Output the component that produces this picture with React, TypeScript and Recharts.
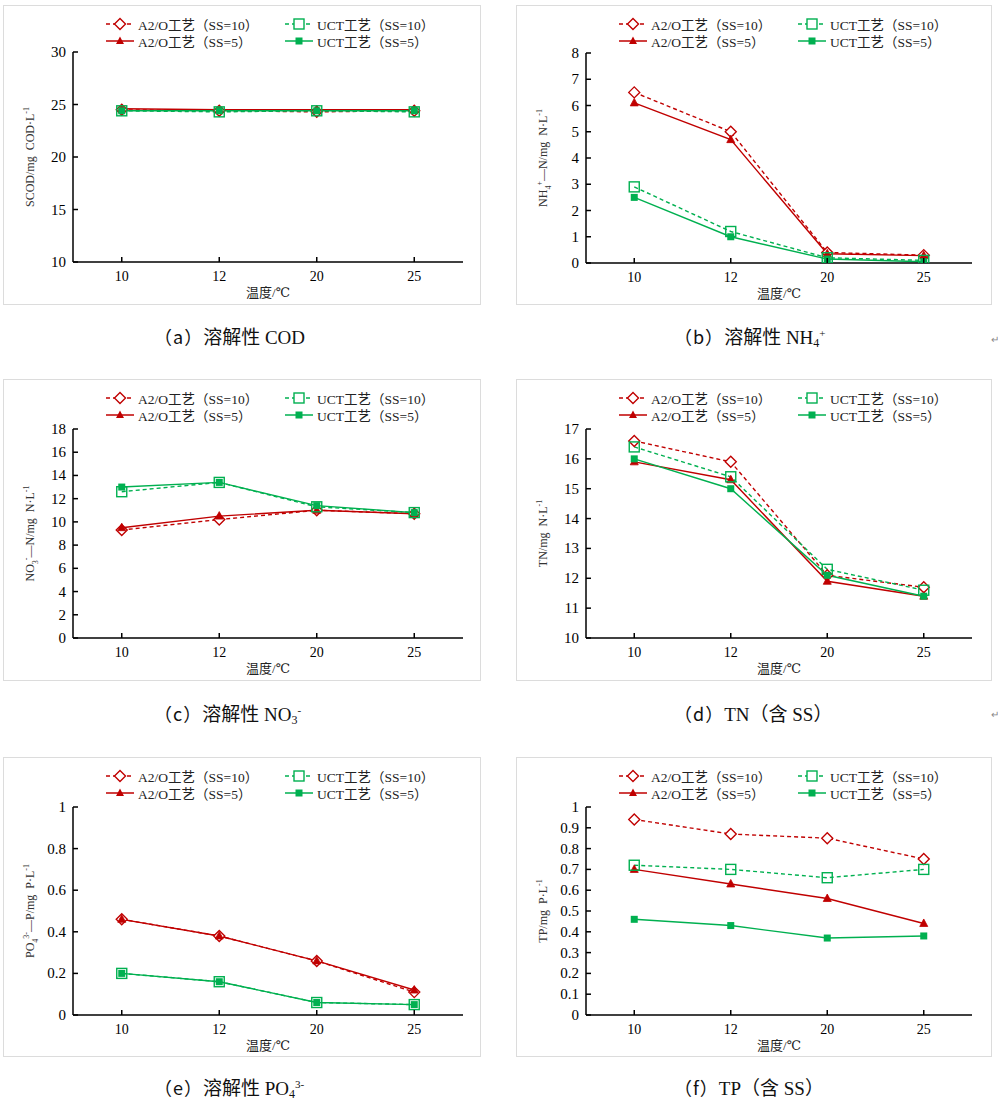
import React from 'react';
import { LineChart, Line, XAxis, YAxis } from 'recharts';

const temps = ['10', '12', '20', '25'];

const codA2O10 = [24.5, 24.4, 24.3, 24.4];
const codA2O5 = [24.6, 24.5, 24.5, 24.5];
const codUCT10 = [24.4, 24.3, 24.4, 24.3];
const codUCT5 = [24.4, 24.4, 24.4, 24.4];

const nhA2O10 = [6.5, 5.0, 0.4, 0.3];
const nhA2O5 = [6.1, 4.7, 0.35, 0.28];
const nhUCT10 = [2.9, 1.2, 0.2, 0.1];
const nhUCT5 = [2.5, 1.0, 0.15, 0.05];

const noA2O10 = [9.3, 10.2, 11.0, 10.7];
const noA2O5 = [9.5, 10.5, 11.0, 10.7];
const noUCT10 = [12.6, 13.4, 11.3, 10.8];
const noUCT5 = [13.0, 13.4, 11.4, 10.8];

const tnA2O10 = [16.6, 15.9, 12.1, 11.7];
const tnA2O5 = [15.9, 15.3, 11.9, 11.4];
const tnUCT10 = [16.4, 15.4, 12.3, 11.6];
const tnUCT5 = [16.0, 15.0, 12.1, 11.4];

const poA2O10 = [0.46, 0.38, 0.26, 0.11];
const poA2O5 = [0.46, 0.38, 0.26, 0.12];
const poUCT10 = [0.2, 0.16, 0.06, 0.05];
const poUCT5 = [0.2, 0.16, 0.06, 0.05];

const tpA2O10 = [0.94, 0.87, 0.85, 0.75];
const tpA2O5 = [0.7, 0.63, 0.56, 0.44];
const tpUCT10 = [0.72, 0.7, 0.66, 0.7];
const tpUCT5 = [0.46, 0.43, 0.37, 0.38];

const ticksCOD = [10, 15, 20, 25, 30];
const ticksNH = [0, 1, 2, 3, 4, 5, 6, 7, 8];
const ticksNO = [0, 2, 4, 6, 8, 10, 12, 14, 16, 18];
const ticksTN = [10, 11, 12, 13, 14, 15, 16, 17];
const ticksPO = [0, 0.2, 0.4, 0.6, 0.8, 1];
const ticksTP = [0, 0.1, 0.2, 0.3, 0.4, 0.5, 0.6, 0.7, 0.8, 0.9, 1];

const legendNames = ['A2/O工艺（SS=10）', 'UCT工艺（SS=10）', 'A2/O工艺（SS=5）', 'UCT工艺（SS=5）'];

const RED = '#C00000';
const GREEN = '#00B050';
const FONT = '"Liberation Serif", "DejaVu Serif", "Noto Sans CJK SC", serif';

type Seg = { t: string; sub?: boolean; sup?: boolean };

const build = (a: number[], b: number[], c: number[], d: number[]) =>
  temps.map((t, i) => ({ t, a10: a[i], a5: b[i], u10: c[i], u5: d[i] }));

const panels = [
  {
    left: 3, top: 5, w: 478, h: 300, plotTop: 47, plotBottom: 257, right: 18,
    data: build(codA2O10, codA2O5, codUCT10, codUCT5), domain: [10, 30], ticks: ticksCOD,
    ylabel: [{ t: 'SCOD/mg  COD·L' }, { t: '-1', sup: true }] as Seg[],
  },
  {
    left: 516, top: 5, w: 476, h: 300, plotTop: 48, plotBottom: 258, right: 20,
    data: build(nhA2O10, nhA2O5, nhUCT10, nhUCT5), domain: [0, 8], ticks: ticksNH,
    ylabel: [{ t: 'NH' }, { t: '4', sub: true }, { t: '+', sup: true }, { t: '—N/mg  N·L' }, { t: '-1', sup: true }] as Seg[],
  },
  {
    left: 3, top: 379, w: 478, h: 302, plotTop: 50, plotBottom: 259, right: 18,
    data: build(noA2O10, noA2O5, noUCT10, noUCT5), domain: [0, 18], ticks: ticksNO,
    ylabel: [{ t: 'NO' }, { t: '3', sub: true }, { t: '-', sup: true }, { t: '—N/mg  N·L' }, { t: '-1', sup: true }] as Seg[],
  },
  {
    left: 516, top: 379, w: 476, h: 302, plotTop: 50, plotBottom: 259, right: 20,
    data: build(tnA2O10, tnA2O5, tnUCT10, tnUCT5), domain: [10, 17], ticks: ticksTN,
    ylabel: [{ t: 'TN/mg  N·L' }, { t: '-1', sup: true }] as Seg[],
  },
  {
    left: 3, top: 757, w: 478, h: 300, plotTop: 50, plotBottom: 258, right: 18,
    data: build(poA2O10, poA2O5, poUCT10, poUCT5), domain: [0, 1], ticks: ticksPO,
    ylabel: [{ t: 'PO' }, { t: '4', sub: true }, { t: '3-', sup: true }, { t: '—P/mg  P·L' }, { t: '-1', sup: true }] as Seg[],
  },
  {
    left: 516, top: 757, w: 476, h: 300, plotTop: 50, plotBottom: 258, right: 20,
    data: build(tpA2O10, tpA2O5, tpUCT10, tpUCT5), domain: [0, 1], ticks: ticksTP,
    ylabel: [{ t: 'TP/mg  P·L' }, { t: '-1', sup: true }] as Seg[],
  },
];

const captions = [
  { left: 154, top: 324, lab: '（a）', segs: [{ t: '溶解性 ' }, { t: 'COD' }] as Seg[] },
  { left: 674, top: 324, lab: '（b）', segs: [{ t: '溶解性 ' }, { t: 'NH' }, { t: '4', sub: true }, { t: '+', sup: true }] as Seg[] },
  { left: 154, top: 701, lab: '（c）', segs: [{ t: '溶解性 ' }, { t: 'NO' }, { t: '3', sub: true }, { t: '-', sup: true }] as Seg[] },
  { left: 674, top: 701, lab: '（d）', segs: [{ t: 'TN（含 SS）' }] as Seg[] },
  { left: 154, top: 1075, lab: '（e）', segs: [{ t: '溶解性 ' }, { t: 'PO' }, { t: '4', sub: true }, { t: '3-', sup: true }] as Seg[] },
  { left: 674, top: 1075, lab: '（f）', segs: [{ t: 'TP（含 SS）' }] as Seg[] },
];

const diamond = (cx: number, cy: number, k: string) => (
  <path key={k} d={`M${cx},${cy - 5.5}L${cx + 5.5},${cy}L${cx},${cy + 5.5}L${cx - 5.5},${cy}Z`} fill="#fff" stroke={RED} strokeWidth={1.4} />
);
const triangle = (cx: number, cy: number, k: string) => (
  <path key={k} d={`M${cx},${cy - 4.5}L${cx + 4},${cy + 3}L${cx - 4},${cy + 3}Z`} fill={RED} stroke={RED} strokeWidth={0.8} />
);
const openSq = (cx: number, cy: number, k: string) => (
  <rect key={k} x={cx - 5} y={cy - 5} width={10} height={10} fill="#fff" fillOpacity={0} stroke={GREEN} strokeWidth={1.4} />
);
const fillSq = (cx: number, cy: number, k: string) => (
  <rect key={k} x={cx - 3.5} y={cy - 3.5} width={7} height={7} fill={GREEN} />
);

const mkDot = (fn: (cx: number, cy: number, k: string) => React.ReactElement, name: string) => (p: any) =>
  fn(p.cx, p.cy, `${name}-${p.index}`);

const XTick = (p: any) => (
  <g>
    <line x1={p.x} y1={p.y} x2={p.x} y2={p.y - 5} stroke="#000" strokeWidth={1.5} />
    <text x={p.x} y={p.y + 19} textAnchor="middle" fontSize={14} style={{ fontFamily: FONT }} fill="#000">
      {p.payload.value}
    </text>
  </g>
);

const YTick = (p: any) => (
  <g>
    <line x1={p.x} y1={p.y} x2={p.x + 5} y2={p.y} stroke="#000" strokeWidth={1.5} />
    <text x={p.x - 7} y={p.y + 5} textAnchor="end" fontSize={15} style={{ fontFamily: FONT }} fill="#000">
      {p.payload.value}
    </text>
  </g>
);

const segTspans = (segs: Seg[], base: number, small: number) => {
  let cur = 0;
  return segs.map((s, i) => {
    const target = s.sub ? base * 0.3 : s.sup ? -base * 0.4 : 0;
    const dy = target - cur;
    cur = target;
    return (
      <tspan key={i} dy={dy} fontSize={s.sub || s.sup ? small : base}>
        {s.t}
      </tspan>
    );
  });
};

const Legend2 = () => {
  const items = [
    { x: 102, y: 18, color: RED, dash: true, mark: 'd' },
    { x: 281, y: 18, color: GREEN, dash: true, mark: 'os' },
    { x: 102, y: 35, color: RED, dash: false, mark: 't' },
    { x: 281, y: 35, color: GREEN, dash: false, mark: 'fs' },
  ];
  return (
    <>
      {items.map((it, i) => (
        <div key={i} style={{ position: 'absolute', left: it.x, top: it.y - 9, height: 18, display: 'flex', alignItems: 'center', whiteSpace: 'nowrap' }}>
          <svg width={28} height={18} style={{ display: 'block' }}>
            <line x1={0} y1={9} x2={28} y2={9} stroke={it.color} strokeWidth={1.5} strokeDasharray={it.dash ? '4 3' : undefined} />
            {it.mark === 'd' && <path d="M14,3.5L19.5,9L14,14.5L8.5,9Z" fill="#fff" stroke={RED} strokeWidth={1.4} />}
            {it.mark === 't' && <path d="M14,4.5L18,12L10,12Z" fill={RED} />}
            {it.mark === 'os' && <rect x={9} y={4} width={10} height={10} fill="#fff" stroke={GREEN} strokeWidth={1.4} />}
            {it.mark === 'fs' && <rect x={10.5} y={5.5} width={7} height={7} fill={GREEN} />}
          </svg>
          <span style={{ marginLeft: 4, fontSize: 13.5, fontFamily: FONT, color: '#222' }}>{legendNames[i]}</span>
        </div>
      ))}
    </>
  );
};

const Panel = ({ cfg }: { cfg: any }) => {
  const xH = cfg.h - cfg.plotBottom;
  const plotW = cfg.w - 70 - cfg.right;
  const pad = plotW / 8;
  return (
    <div
      style={{
        position: 'absolute', left: cfg.left, top: cfg.top, width: cfg.w, height: cfg.h,
        boxSizing: 'border-box', border: '1.5px solid #dcdcdc', background: '#fff',
      }}
    >
      <div style={{ position: 'absolute', left: -1.5, top: -1.5 }}>
        <LineChart width={cfg.w} height={cfg.h} data={cfg.data} margin={{ top: cfg.plotTop, right: cfg.right, bottom: 0, left: 0 }}>
          <XAxis
            dataKey="t"
            type="category"
            height={xH}
            padding={{ left: pad, right: pad }}
            interval={0}
            tickSize={0}
            tickMargin={0}
            tickLine={false}
            tick={XTick}
            axisLine={{ stroke: '#000', strokeWidth: 1.5 }}
            label={{
              content: (p: any) => {
                const vb = p.viewBox;
                return (
                  <text x={vb.x + vb.width / 2} y={vb.y + 35} textAnchor="middle" fontSize={13} style={{ fontFamily: FONT }} fill="#222">
                    温度/℃
                  </text>
                );
              },
            }}
          />
          <YAxis
            type="number"
            domain={cfg.domain}
            ticks={cfg.ticks}
            interval={0}
            allowDataOverflow
            width={70}
            tickSize={0}
            tickMargin={0}
            tickLine={false}
            tick={YTick}
            axisLine={{ stroke: '#000', strokeWidth: 1.5 }}
            label={{
              content: (p: any) => {
                const vb = p.viewBox;
                const cx = 31;
                const cy = vb.y + vb.height / 2;
                return (
                  <text
                    x={cx}
                    y={cy}
                    transform={`rotate(-90 ${cx} ${cy})`}
                    textAnchor="middle"
                    fontSize={12}
                    fill="#333"
                    style={{ whiteSpace: 'pre', fontFamily: FONT }}
                  >
                    {segTspans(cfg.ylabel, 12, 8)}
                  </text>
                );
              },
            }}
          />
          <Line dataKey="a10" stroke={RED} strokeWidth={1.4} strokeDasharray="4 3" dot={mkDot(diamond, 'a10')} isAnimationActive={false} />
          <Line dataKey="a5" stroke={RED} strokeWidth={1.4} dot={mkDot(triangle, 'a5')} isAnimationActive={false} />
          <Line dataKey="u10" stroke={GREEN} strokeWidth={1.4} strokeDasharray="4 3" dot={mkDot(openSq, 'u10')} isAnimationActive={false} />
          <Line dataKey="u5" stroke={GREEN} strokeWidth={1.4} dot={mkDot(fillSq, 'u5')} isAnimationActive={false} />
        </LineChart>
      </div>
      <Legend2 />
    </div>
  );
};

const Caption = ({ c }: { c: any }) => (
  <div style={{ position: 'absolute', left: c.left, top: c.top, fontSize: 18, fontFamily: FONT, color: '#111', whiteSpace: 'pre', lineHeight: '24px' }}>
    <span style={{ fontFamily: '"Noto Sans CJK SC", sans-serif', letterSpacing: 1 }}>{c.lab}</span>
    {c.segs.map((s: Seg, i: number) =>
      s.sub ? (
        <span key={i} style={{ fontSize: 12, position: 'relative', top: 3 }}>{s.t}</span>
      ) : s.sup ? (
        <span key={i} style={{ fontSize: 11, position: 'relative', top: -7 }}>{s.t}</span>
      ) : (
        <span key={i} style={{ fontSize: 19 }}>{s.t}</span>
      )
    )}
  </div>
);

export default function App() {
  return (
    <div style={{ position: 'absolute', left: 0, top: 0, width: 998, height: 1109, background: '#fff', overflow: 'hidden' }}>
      {panels.map((p, i) => (
        <Panel key={i} cfg={p} />
      ))}
      {captions.map((c, i) => (
        <Caption key={i} c={c} />
      ))}
      <div style={{ position: 'absolute', left: 991, top: 334, fontSize: 10, color: '#888' }}>↵</div>
      <div style={{ position: 'absolute', left: 991, top: 709, fontSize: 10, color: '#888' }}>↵</div>
    </div>
  );
}
